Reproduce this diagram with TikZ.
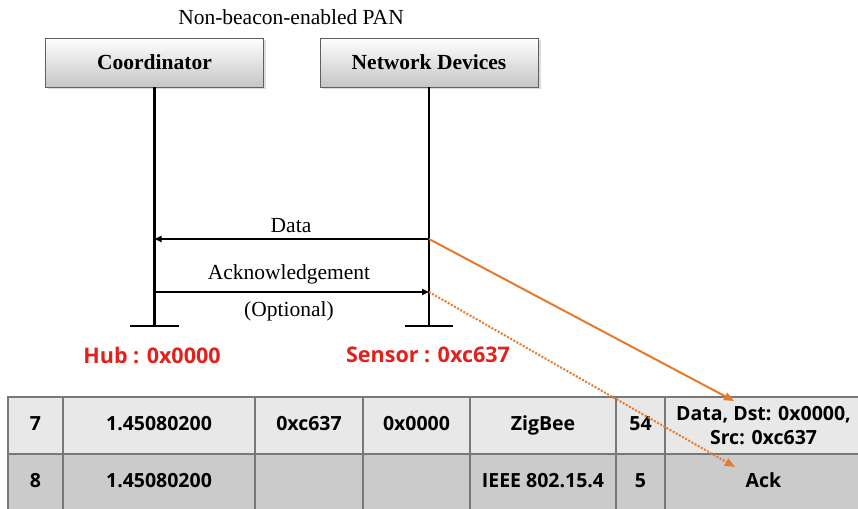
\documentclass[tikz,border=0pt]{standalone}
\usepackage{fontspec}
\setmainfont{Liberation Serif}
\newfontfamily\tabfont{Open Sans}
\usetikzlibrary{arrows.meta,shadows}
\definecolor{orangeln}{HTML}{E67A2A}
\definecolor{redlab}{HTML}{E3201B}
\definecolor{rowA}{HTML}{E8E8E8}
\definecolor{rowB}{HTML}{CBCBCB}
\definecolor{gridc}{HTML}{787878}
\begin{document}
\begin{tikzpicture}[x=1pt,y=-1pt,
  actor/.style={draw=gray!75!black, line width=0.8pt, top color=white, bottom color=gray!45,
    drop shadow={shadow xshift=2.5pt, shadow yshift=-2.5pt, fill=gray!55},
    minimum width=218pt, minimum height=49pt, inner sep=0pt,
    font=\fontsize{21.5}{24}\selectfont\bfseries},
  life/.style={line width=2.4pt, black},
  msg/.style={line width=2.4pt, black, -{Triangle[length=7pt,width=6pt]}},
  lbl/.style={inner sep=0pt, font=\fontsize{21.5}{24}\selectfont},
  redl/.style={inner sep=0pt, text=redlab, font=\tabfont\bfseries\fontsize{21.5}{24}\selectfont},
  cellbox/.style={draw=gridc, line width=1.5pt, minimum height=57pt, inner sep=0pt,
    align=center, font=\tabfont\bfseries\fontsize{19.5}{21}\selectfont},
  cellA/.style={cellbox, fill=rowA, text height=14pt, text depth=4pt},
  cellA2/.style={cellbox, fill=rowA},
  cellB/.style={cellbox, fill=rowB, minimum height=56pt, text height=14pt, text depth=4pt},
  orl/.style={line width=2pt, orangeln, -{Triangle[length=10pt,width=8pt]}},
  ord/.style={orl, dash pattern=on 2pt off 1.6pt}
]
\useasboundingbox (0,0) rectangle (858,508);

% title
\node[lbl] (title) at (291,17) {Non-beacon-enabled PAN};

% actors
\node[actor] (coord) at (154.5,62.5) {Coordinator};
\node[actor] (netdev) at (429,62.5) {Network Devices};

% lifeline ends and ground bars
\coordinate (cEnd) at (154.5,326);
\coordinate (nEnd) at (429,326);
\coordinate (cGl) at (130,326);
\coordinate (cGr) at (179,326);
\coordinate (nGl) at (405,326);
\coordinate (nGr) at (453,326);
\draw[life] (coord.south) -- (cEnd);
\draw[life] (netdev.south) -- (nEnd);
\draw[life] (cGl) -- (cGr);
\draw[life] (nGl) -- (nGr);

% messages
\coordinate (nD) at (429,239);
\coordinate (cD) at (154.5,239);
\coordinate (cA) at (154.5,292);
\coordinate (nA) at (429,292);
\draw[msg] (nD) -- (cD);
\draw[msg] (cA) -- (nA);
\node[lbl] (ldata) at (291,226) {Data};
\node[lbl] (lack) at (289,274) {Acknowledgement};
\node[lbl] (lopt) at (289,311) {(Optional)};

% red labels
\node[redl] (hub) at (152,355) {Hub : 0x0000};
\node[redl] (sensor) at (428,355) {Sensor : 0xc637};

% table row 1
\node[cellA, minimum width=55pt] (a1) at (35.5,425.5) {7};
\node[cellA, minimum width=192pt] (a2) at (159,425.5) {1.45080200};
\node[cellA, minimum width=108pt] (a3) at (309,425.5) {0xc637};
\node[cellA, minimum width=107pt] (a4) at (416.5,425.5) {0x0000};
\node[cellA, minimum width=146pt] (a5) at (543,425.5) {ZigBee};
\node[cellA, minimum width=49pt] (a6) at (640.5,425.5) {54};
\node[cellA2, minimum width=197pt] (a7) at (763.5,425.5) {Data, Dst: 0x0000,\\[2.5pt] Src: 0xc637};
% table row 2
\node[cellB, minimum width=55pt] (b1) at (35.5,482) {8};
\node[cellB, minimum width=192pt] (b2) at (159,482) {1.45080200};
\node[cellB, minimum width=108pt] (b3) at (309,482) {};
\node[cellB, minimum width=107pt] (b4) at (416.5,482) {};
\node[cellB, minimum width=146pt] (b5) at (543,482) {IEEE 802.15.4};
\node[cellB, minimum width=49pt] (b6) at (640.5,482) {5};
\node[cellB, minimum width=197pt] (b7) at (763.5,482) {Ack};

% orange connectors
\coordinate (dTip) at (734,401);
\coordinate (aTip) at (735,467);
\draw[orl] (nD) -- (dTip);
\draw[ord] (nA) -- (aTip);
\end{tikzpicture}
\end{document}
